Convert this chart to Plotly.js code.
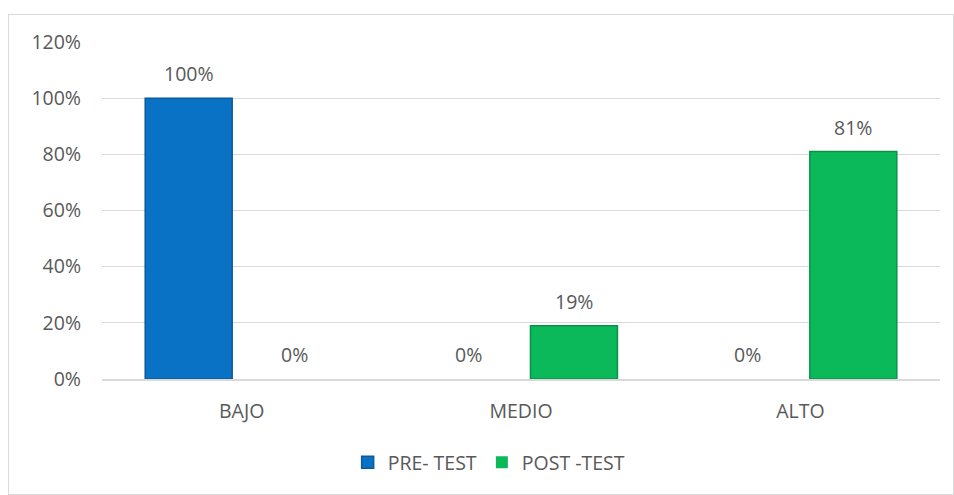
<!DOCTYPE html>
<html>
<head>
<meta charset="utf-8">
<script src="https://cdn.plot.ly/plotly-3.0.1.min.js"></script>
<style>
  html, body { margin: 0; padding: 0; background: #ffffff; }
  #wrap { position: relative; width: 954px; height: 495px; }
  #chart { width: 954px; height: 495px; }
  #frame { position: absolute; left: 8px; top: 14px; width: 944px; height: 479px;
           border: 1px solid #d9d9d9; pointer-events: none; }
</style>
</head>
<body>
<div id="wrap">
  <div id="chart"></div>
  <div id="frame"></div>
</div>
<script>
const categories = ["BAJO", "MEDIO", "ALTO"];
const preTest = [1.00, 0.00, 0.00];
const postTest = [0.00, 0.19, 0.81];
const seriesNames = ["PRE- TEST", "POST -TEST"];
const yTicks = [0, 0.2, 0.4, 0.6, 0.8, 1.0, 1.2];

const FONT = "Open Sans, Liberation Sans, sans-serif";
const TXT = "#595959";
const FS = 19.5;

const traces = [
  { type: "bar", name: seriesNames[0], x: categories, y: preTest,
    marker: { color: "#0a72c4",
              line: { color: "#0b5a9c", width: preTest.map(v => v > 0 ? 1.5 : 0) } },
    hoverinfo: "skip" },
  { type: "bar", name: seriesNames[1], x: categories, y: postTest,
    marker: { color: "#0bb85a",
              line: { color: "#08934a", width: postTest.map(v => v > 0 ? 1.5 : 0) } },
    hoverinfo: "skip" }
];

const annotations = [];
const series = [preTest, postTest];
const shifts = [-53, 53];
series.forEach((vals, si) => {
  vals.forEach((v, i) => {
    annotations.push({
      xref: "x", yref: "y", x: categories[i], y: v,
      text: Math.round(v * 100) + "%",
      showarrow: false, xshift: shifts[si], yshift: 24.5,
      xanchor: "center", yanchor: "middle",
      font: { family: FONT, size: FS, color: TXT }
    });
  });
});

const layout = {
  width: 954, height: 495,
  margin: { l: 102, r: 13.5, t: 42.3, b: 115.5 },
  paper_bgcolor: "#ffffff", plot_bgcolor: "#ffffff",
  barmode: "group", bargap: 0.2415, bargroupgap: 0.179,
  font: { family: FONT, size: FS, color: TXT },
  xaxis: {
    type: "category", showgrid: false, zeroline: false,
    showline: true, linecolor: "#d9d9d9", linewidth: 1.5,
    ticks: "", tickfont: { family: FONT, size: FS, color: TXT },
    ticklabelstandoff: 14
  },
  yaxis: {
    range: [0, 1.2], tickvals: yTicks, tickformat: ".0%",
    showgrid: true, gridcolor: "#d9d9d9", gridwidth: 1,
    zeroline: false, showline: false, ticks: "",
    tickfont: { family: FONT, size: FS, color: TXT },
    ticklabelstandoff: 20
  },
  showlegend: true,
  legend: {
    orientation: "h", x: 0.462, xanchor: "center", y: -0.248, yanchor: "middle",
    font: { family: FONT, size: FS, color: TXT }, itemwidth: 30,
    traceorder: "normal"
  },
  annotations: annotations
};

Plotly.newPlot("chart", traces, layout, { displayModeBar: false, staticPlot: true });
</script>
</body>
</html>
